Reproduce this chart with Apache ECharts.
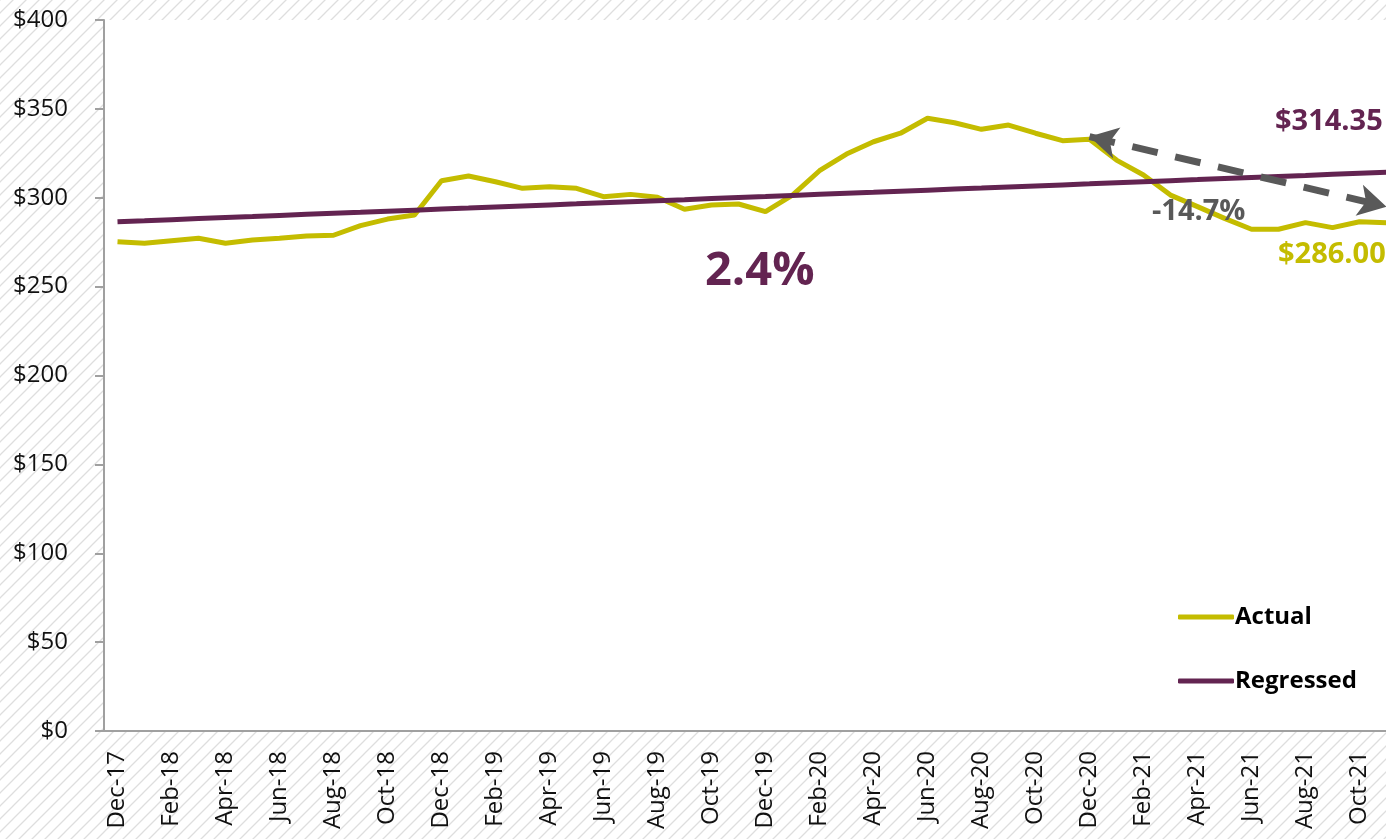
<!DOCTYPE html>
<html>
<head>
<meta charset="utf-8">
<script src="https://cdn.jsdelivr.net/npm/echarts@6/dist/echarts.min.js"></script>
<style>
  html, body { margin: 0; padding: 0; background: #fff; overflow: hidden; width: 1386px; height: 839px; }
  #main { width: 1401px; height: 839px; }
</style>
</head>
<body>
<div id="main"></div>
<script>
var months = ['Dec-17',
  'Jan-18', 'Feb-18', 'Mar-18', 'Apr-18', 'May-18', 'Jun-18', 'Jul-18', 'Aug-18', 'Sep-18', 'Oct-18', 'Nov-18', 'Dec-18',
  'Jan-19', 'Feb-19', 'Mar-19', 'Apr-19', 'May-19', 'Jun-19', 'Jul-19', 'Aug-19', 'Sep-19', 'Oct-19', 'Nov-19', 'Dec-19',
  'Jan-20', 'Feb-20', 'Mar-20', 'Apr-20', 'May-20', 'Jun-20', 'Jul-20', 'Aug-20', 'Sep-20', 'Oct-20', 'Nov-20', 'Dec-20',
  'Jan-21', 'Feb-21', 'Mar-21', 'Apr-21', 'May-21', 'Jun-21', 'Jul-21', 'Aug-21', 'Sep-21', 'Oct-21', 'Nov-21'];

var actual = [275.3,
  274.4, 275.8, 277.2, 274.4, 276.2, 277.2, 278.5, 278.9, 284.3, 288.0, 290.3, 309.6,
  312.2, 309.0, 305.3, 306.2, 305.3, 300.6, 301.9, 300.3, 293.5, 295.9, 296.5, 292.2,
  301.5, 315.2, 324.6, 331.5, 336.3, 344.7, 342.2, 338.5, 340.9, 336.3, 332.1, 332.9,
  321.2, 312.8, 301.5, 295.0, 288.4, 282.3, 282.3, 286.0, 283.2, 286.5, 286.0];

var regressed = [286.50,
  287.09, 287.69, 288.28, 288.87, 289.46, 290.06, 290.65, 291.24, 291.83, 292.43, 293.02, 293.61,
  294.20, 294.80, 295.39, 295.98, 296.57, 297.17, 297.76, 298.35, 298.94, 299.54, 300.13, 300.72,
  301.32, 301.91, 302.50, 303.09, 303.69, 304.28, 304.87, 305.46, 306.06, 306.65, 307.24, 307.83,
  308.43, 309.02, 309.61, 310.20, 310.80, 311.39, 311.98, 312.57, 313.17, 313.76, 314.35];

// change arrow: Dec-20 -> Nov-21
var arrowFrom = ['Dec-20', 334.4];
var arrowTo = ['Nov-21', 295.0];

var yellow = '#c4bc00';
var purple = '#632451';
var gray = '#595959';

// diagonal hatch for the page background
function hatch() {
  var s = 13;
  var c = document.createElement('canvas');
  c.width = s; c.height = s;
  var ctx = c.getContext('2d');
  ctx.fillStyle = '#ffffff';
  ctx.fillRect(0, 0, s, s);
  ctx.strokeStyle = '#dedede';
  ctx.lineWidth = 1.3;
  ctx.beginPath();
  ctx.moveTo(-2, s + 2); ctx.lineTo(s + 2, -2);
  ctx.moveTo(-2, 2); ctx.lineTo(2, -2);
  ctx.moveTo(s - 2, s + 2); ctx.lineTo(s + 2, s - 2);
  ctx.stroke();
  return c;
}

var chart = echarts.init(document.getElementById('main'));
var font = '"Open Sans", "Noto Sans", sans-serif';

function note(text, x, y, size, color) {
  return {
    type: 'text', x: x, y: y, z: 100,
    style: { text: text, fill: color, font: 'bold ' + size + 'px ' + font, align: 'left', verticalAlign: 'middle' }
  };
}

var option = {
  backgroundColor: { image: hatch(), repeat: 'repeat' },
  animation: false,
  textStyle: { fontFamily: font },
  grid: {
    left: 104,
    top: 20,
    width: 1296,
    height: 711,
    show: true,
    backgroundColor: '#ffffff',
    borderWidth: 0
  },
  legend: {
    orient: 'vertical',
    left: 1173,
    top: 600,
    itemWidth: 56,
    itemHeight: 5,
    itemGap: 40,
    icon: 'roundRect',
    textStyle: { fontSize: 24, fontWeight: 'bold', color: '#000', fontFamily: font, padding: [0, 0, 0, -4] },
    data: ['Actual', 'Regressed']
  },
  xAxis: {
    type: 'category',
    data: months,
    boundaryGap: true,
    axisLine: { lineStyle: { color: '#a0a0a0', width: 2 } },
    axisTick: { interval: 1, length: 9, lineStyle: { color: '#a0a0a0', width: 2 } },
    axisLabel: {
      interval: 1,
      rotate: 90,
      fontSize: 24,
      color: '#111',
      margin: 20,
      fontFamily: font
    },
    splitLine: { show: false }
  },
  yAxis: {
    type: 'value',
    min: 0,
    max: 400,
    interval: 50,
    axisLine: { show: true, lineStyle: { color: '#a0a0a0', width: 2 } },
    axisTick: { show: true, length: 9, lineStyle: { color: '#a0a0a0', width: 2 } },
    axisLabel: {
      fontSize: 24,
      color: '#111',
      margin: 36,
      fontFamily: font,
      formatter: '${value}'
    },
    splitLine: { show: false }
  },
  series: [
    {
      name: 'Actual',
      type: 'line',
      data: actual,
      symbol: 'none',
      z: 2,
      lineStyle: { color: yellow, width: 5 },
      itemStyle: { color: yellow }
    },
    {
      name: 'Regressed',
      type: 'line',
      data: regressed,
      symbol: 'none',
      z: 3,
      lineStyle: { color: purple, width: 5 },
      itemStyle: { color: purple },
      markLine: {
        silent: true,
        symbol: ['arrow', 'arrow'],
        symbolSize: [24, 28],
        label: { show: false },
        lineStyle: { color: gray, width: 7, type: [26, 18] },
        data: [[{ coord: arrowFrom }, { coord: arrowTo }]]
      }
    }
  ],
  graphic: [
    note('2.4%', 705, 272, 47, purple),
    note('-14.7%', 1152, 212, 29, gray),
    note('$314.35', 1275, 122, 29, purple),
    note('$286.00', 1278, 255, 29, yellow)
  ]
};

chart.setOption(option);
</script>
</body>
</html>
